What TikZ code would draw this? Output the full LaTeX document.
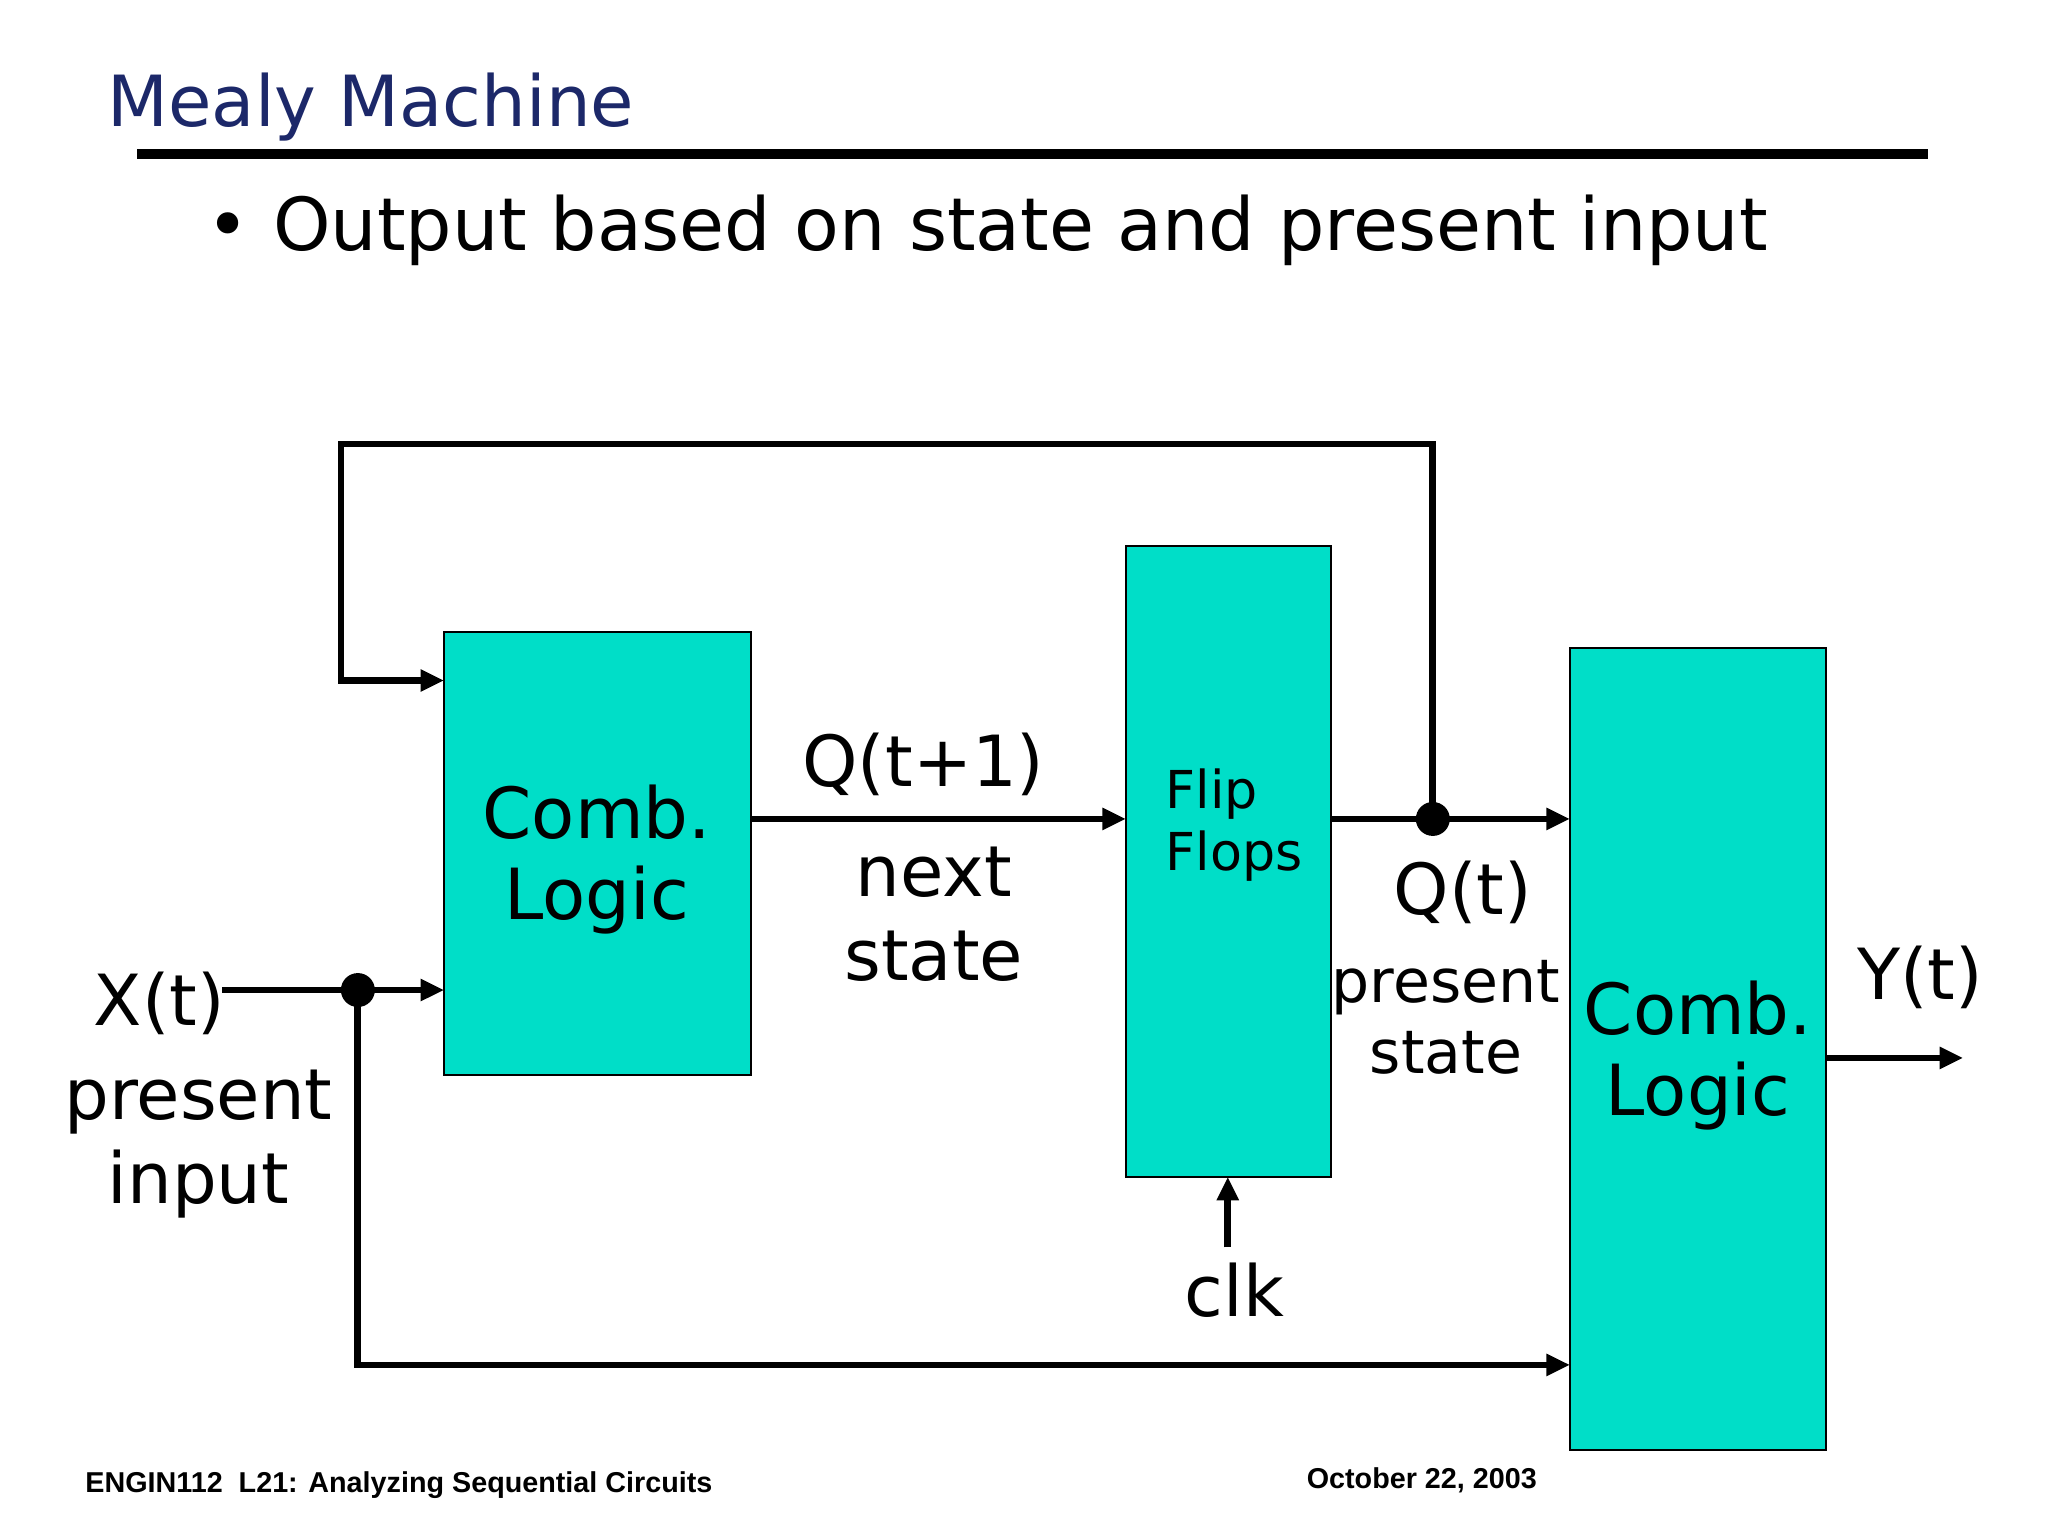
\documentclass[tikz,border=0pt]{standalone}
\usepackage{fontspec}
\setmainfont{DejaVu Sans}
\newfontfamily\footfont{Liberation Sans}
\usetikzlibrary{arrows.meta}
\definecolor{navy}{RGB}{28,40,105}
\definecolor{teal}{RGB}{0,222,200}
\begin{document}
\begin{tikzpicture}[x=0.5pt,y=-0.5pt,
  blk/.style={draw=black,line width=0.6pt,fill=teal},
  wire/.style={line width=2.6pt},
  arr/.style={wire,-{Triangle[length=9pt,width=8pt]}},
  dot/.style={circle,fill=black,inner sep=0pt,minimum size=13pt},
  lbl/.style={font=\fontsize{27}{32}\selectfont,align=center},
  big/.style={font=\fontsize{27}{31}\selectfont,align=center}]
\useasboundingbox (0,0) rectangle (1568,1176);
\fill[white] (0,0) rectangle (1568,1176);
\node[anchor=base west,text=navy,font=\fontsize{27}{32}\selectfont,inner sep=0pt] (title) at (82,97) {Mealy Machine};
\draw[line width=4pt] (105,118) -- (1476,118);
\node[anchor=base west,font=\fontsize{28}{33}\selectfont,inner sep=0pt] (bul) at (158,192) {\textbullet\ Output based on state and present input};
% boxes
\draw[blk] (340,484) rectangle (575,823);
\node[big] (cl1) at (457,658) {Comb.\\Logic};
\draw[blk] (862,418) rectangle (1019,901);
\node[anchor=north west,font=\fontsize{20}{24}\selectfont,align=left,inner sep=0pt] (ff) at (892,588) {Flip\\Flops};
\draw[blk] (1202,496) rectangle (1398,1110);
\node[big] (cl2) at (1300,808) {Comb.\\Logic};
% coordinates
\coordinate (d1) at (1097,627);
\coordinate (d2) at (274,758);
\node[dot] (n1) at (d1) {};
\node[dot] (n2) at (d2) {};
\coordinate (xin) at (170,758);
\coordinate (b1in1) at (340,521);
\coordinate (b1in2) at (340,758);
\coordinate (b1out) at (575,627);
\coordinate (ffin) at (862,627);
\coordinate (ffout) at (1019,627);
\coordinate (b3in1) at (1202,627);
\coordinate (b3in2) at (1202,1045);
\coordinate (b3out) at (1398,810);
\coordinate (yend) at (1503,810);
\coordinate (clks) at (940,955);
\coordinate (clke) at (940,901);
% wires
\draw[arr] (d1) -- (1097,340) -- (261,340) -- (261,521) -- (b1in1);
\draw[arr] (b1out) -- (ffin);
\draw[wire] (ffout) -- (d1);
\draw[arr] (d1) -- (b3in1);
\draw[wire] (xin) -- (d2);
\draw[arr] (d2) -- (b1in2);
\draw[arr] (d2) -- (274,1045) -- (b3in2);
\draw[arr] (b3out) -- (yend);
\draw[arr] (clks) -- (clke);
% labels
\node[lbl] (lx) at (122,768) {X(t)};
\node[lbl] (lpi) at (152,876) {present\\input};
\node[lbl] (lq1) at (707,585) {Q(t+1)};
\node[lbl] (lns) at (715,700) {next\\state};
\node[lbl] (lq) at (1120,683) {Q(t)};
\node[font=\fontsize{23}{27}\selectfont,align=center] (lps) at (1107,779) {present\\state};
\node[lbl] (ly) at (1470,748) {Y(t)};
\node[lbl] (lclk) at (945,988) {clk};
% footer
\node[anchor=base west,inner sep=0pt,font=\footfont\bfseries\fontsize{11}{13}\selectfont] (f1) at (65,1143) {ENGIN112\ \ L21: Analyzing Sequential Circuits};
\node[anchor=base east,inner sep=0pt,font=\footfont\bfseries\fontsize{11}{13}\selectfont] (f2) at (1177,1140) {October 22, 2003};
\end{tikzpicture}
\end{document}
